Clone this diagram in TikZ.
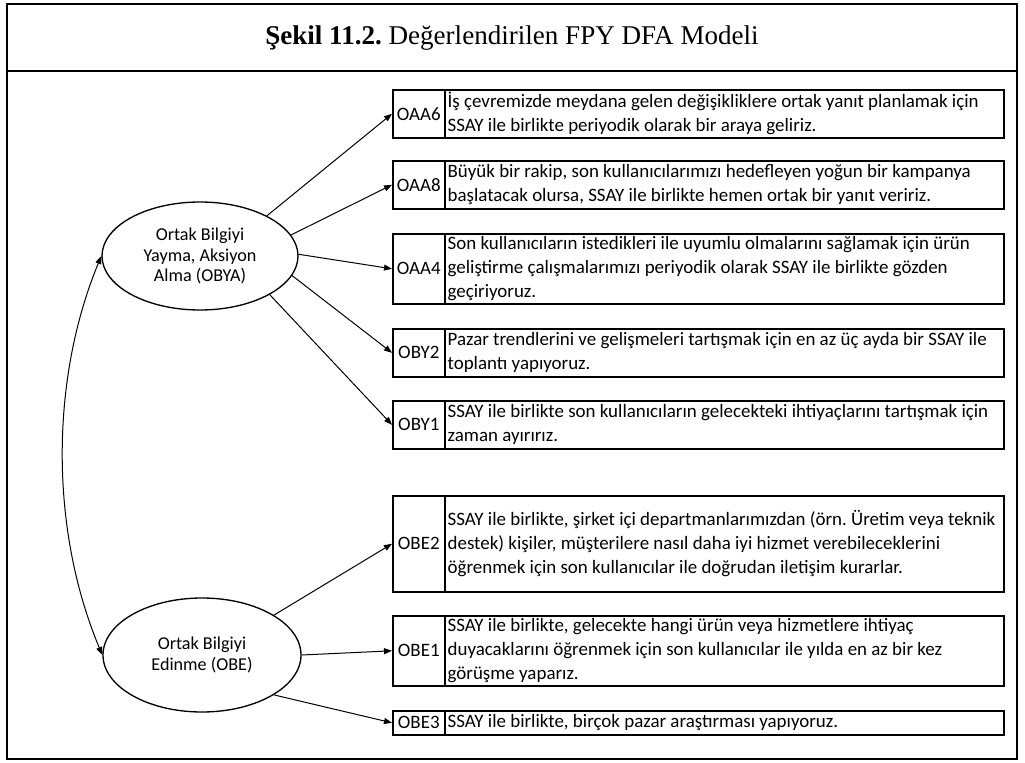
\documentclass[tikz,border=0pt]{standalone}
\usepackage{fontspec}
\setmainfont{Carlito}
\newfontfamily\titlefont{Liberation Serif}
\usetikzlibrary{arrows.meta,shapes.geometric}
\frenchspacing
\begin{document}
\begin{tikzpicture}[x=0.75pt,y=-0.75pt,
  every node/.style={font=\fontsize{14.2pt}{18pt}\selectfont},
  code/.style={draw,line width=1.2pt,minimum width=39pt,inner sep=0pt,anchor=north west},
  desc/.style={draw,line width=1.2pt,minimum width=419.25pt,text width=415pt,inner xsep=2.1pt,inner ysep=0pt,align=flush left,anchor=north west},
  factor/.style={draw,ellipse,line width=1pt,inner sep=0pt,align=center,font=\fontsize{13.6pt}{15.4pt}\selectfont},
  link/.style={line width=0.75pt,-{Triangle[length=6pt,width=4.5pt]}},
  both/.style={line width=0.75pt,{Triangle[length=6pt,width=4.5pt]}-{Triangle[length=6pt,width=4.5pt]}},
]
\useasboundingbox (0,0) rectangle (1025,763);

% outer frame and title band
\draw[line width=1.5pt] (7,4) rectangle (1017,759);
\draw[line width=1.5pt] (7,71) -- (1017,71);
\node (title) at (512,38) {\titlefont\fontsize{20.3pt}{24pt}\selectfont\textbf{Şekil 11.2.} Değerlendirilen FPY DFA Modeli};

% latent factors
\node[factor,minimum width=147pt,minimum height=81pt] (obya) at (200,256) {Ortak Bilgiyi\\Yayma, Aksiyon\\Alma (OBYA)};
\node[factor,minimum width=148.5pt,minimum height=85.5pt] (obe) at (202,655) {Ortak Bilgiyi\\Edinme (OBE)};

% indicator items of OBYA
\node[code,minimum height=36pt] (oaa6) at (392,89) {OAA6};
\node[desc,minimum height=36pt] (oaa6t) at (444,89) {İş çevremizde meydana gelen değişikliklere ortak yanıt planlamak için\\SSAY ile birlikte periyodik olarak bir araya geliriz.};

\node[code,minimum height=36pt] (oaa8) at (392,160) {OAA8};
\node[desc,minimum height=36pt] (oaa8t) at (444,160) {Büyük bir rakip, son kullanıcılarımızı hedefleyen yoğun bir kampanya\\başlatacak olursa, SSAY ile birlikte hemen ortak bir yanıt veririz.};

\node[code,minimum height=52.5pt] (oaa4) at (392,233) {OAA4};
\node[desc,minimum height=52.5pt] (oaa4t) at (444,233) {Son kullanıcıların istedikleri ile uyumlu olmalarını sağlamak için ürün\\geliştirme çalışmalarımızı periyodik olarak SSAY ile birlikte gözden\\geçiriyoruz.};

\node[code,minimum height=36pt] (oby2) at (392,328) {OBY2};
\node[desc,minimum height=36pt] (oby2t) at (444,328) {Pazar trendlerini ve gelişmeleri tartışmak için en az üç ayda bir SSAY ile\\toplantı yapıyoruz.};

\node[code,minimum height=36pt] (oby1) at (392,400) {OBY1};
\node[desc,minimum height=36pt] (oby1t) at (444,400) {SSAY ile birlikte son kullanıcıların gelecekteki ihtiyaçlarını tartışmak için\\zaman ayırırız.};

% indicator items of OBE
\node[code,minimum height=72pt] (obe2) at (392,495) {OBE2};
\node[desc,minimum height=72pt] (obe2t) at (444,495) {SSAY ile birlikte, şirket içi departmanlarımızdan (örn. Üretim veya teknik\\destek) kişiler, müşterilere nasıl daha iyi hizmet verebileceklerini\\öğrenmek için son kullanıcılar ile doğrudan iletişim kurarlar.};

\node[code,minimum height=52.5pt] (obe1) at (392,615) {OBE1};
\node[desc,minimum height=52.5pt] (obe1t) at (444,615) {SSAY ile birlikte, gelecekte hangi ürün veya hizmetlere ihtiyaç\\duyacaklarını öğrenmek için son kullanıcılar ile yılda en az bir kez\\görüşme yaparız.};

\node[code,minimum height=18pt] (obe3) at (392,710) {OBE3};
\node[desc,minimum height=18pt] (obe3t) at (444,710) {SSAY ile birlikte, birçok pazar araştırması yapıyoruz.};

% loadings
\draw[link] (obya.31) -- (oaa6.west);
\draw[link] (obya.13) -- (oaa8.west);
\draw[link] (obya.1) -- (oaa4.west);
\draw[link] (obya.-12) -- (oby2.west);
\draw[link] (obya.-29) -- (oby1.west);
\draw[link] (obe.29) -- (obe2.west);
\draw[link] (obe.0) -- (obe1.west);
\draw[link] (obe.-29) -- (obe3.west);

% factor covariance
\draw[both] (obya.west) .. controls (50,380) and (50,530) .. (obe.west);
\end{tikzpicture}
\end{document}
